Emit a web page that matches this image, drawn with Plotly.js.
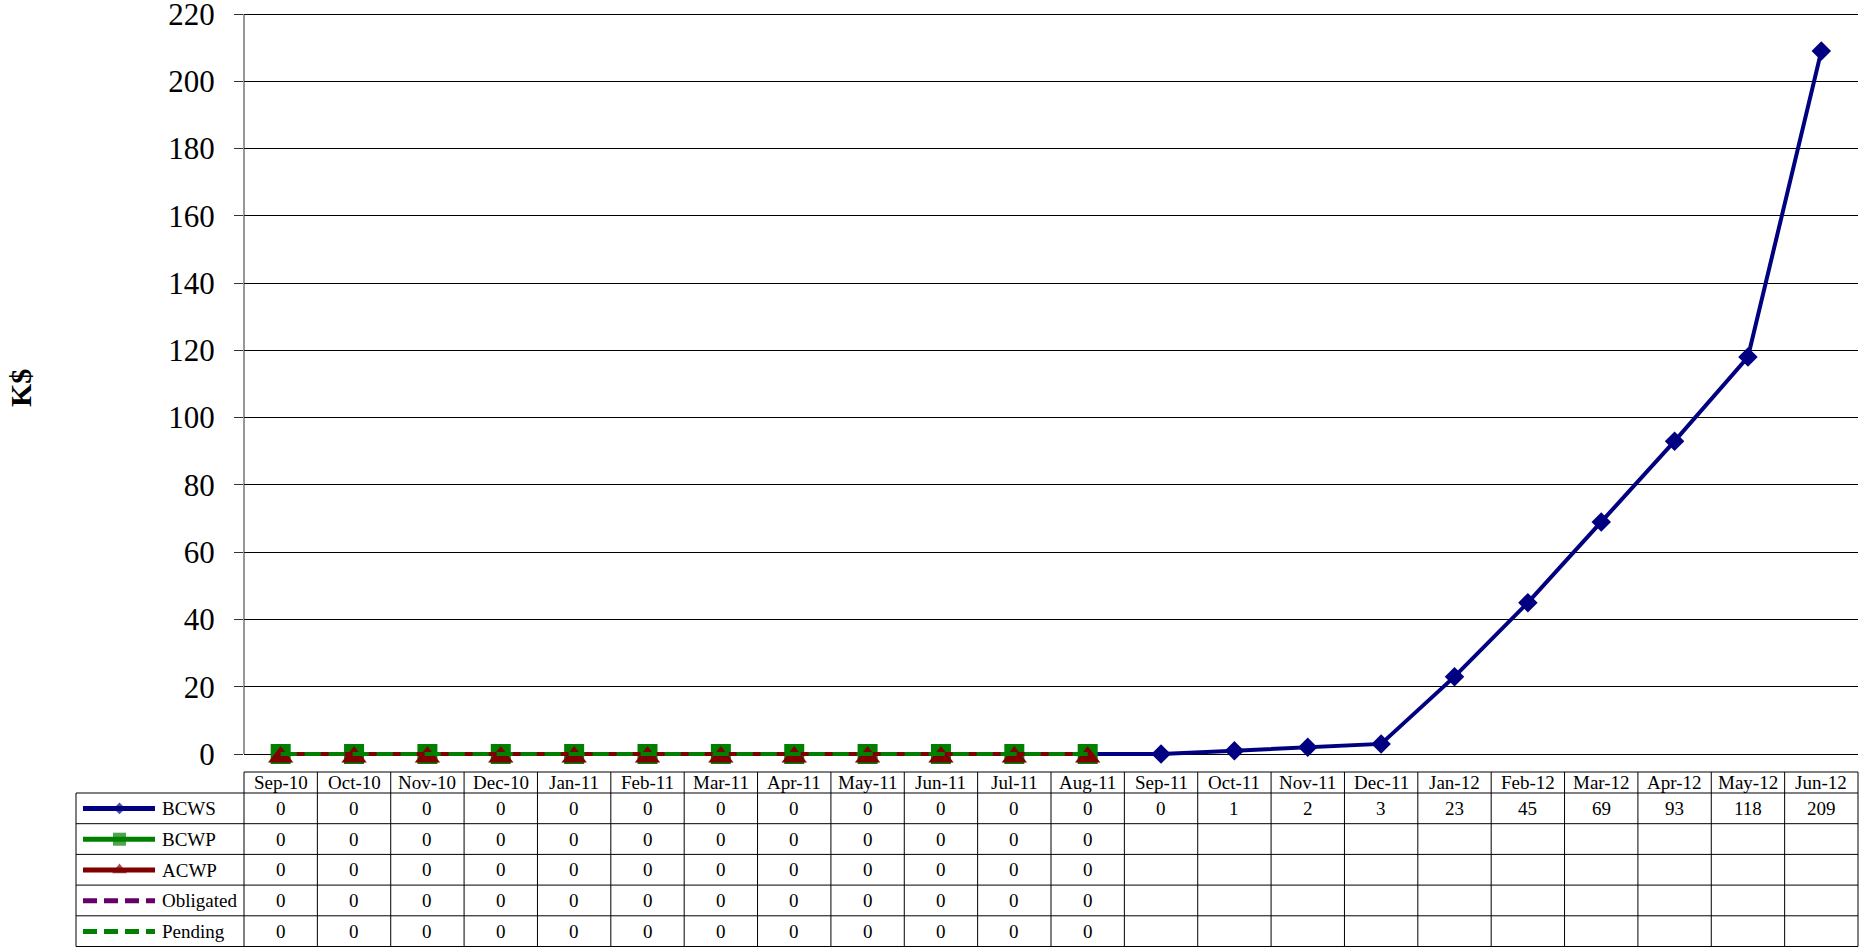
<!DOCTYPE html>
<html><head><meta charset="utf-8">
<script src="https://cdn.plot.ly/plotly-3.0.1.min.js"></script>
<style>html,body{margin:0;padding:0;background:#fff}#chart{width:1860px;height:947px}</style>
</head><body><div id="chart"></div>
<script>
// ---------- DATA ----------
const months = ['Sep-10','Oct-10','Nov-10','Dec-10','Jan-11','Feb-11','Mar-11','Apr-11','May-11','Jun-11','Jul-11','Aug-11',
                'Sep-11','Oct-11','Nov-11','Dec-11','Jan-12','Feb-12','Mar-12','Apr-12','May-12','Jun-12'];
const bcws      = [0,0,0,0,0,0,0,0,0,0,0,0, 0,1,2,3,23,45,69,93,118,209];
const bcwp      = [0,0,0,0,0,0,0,0,0,0,0,0];
const acwp      = [0,0,0,0,0,0,0,0,0,0,0,0];
const obligated = [0,0,0,0,0,0,0,0,0,0,0,0];
const pending   = [0,0,0,0,0,0,0,0,0,0,0,0];
const seriesNames = ['BCWS','BCWP','ACWP','Obligated','Pending'];
const yTicks = [0,20,40,60,80,100,120,140,160,180,200,220];
const yTitle = 'K$';

// ---------- LAYOUT CONSTANTS (pixels) ----------
const W = 1860, H = 947;
const plotL = 244, plotR = 1858, plotT = 14, plotB = 754;
const headTop = 772, headBot = 793, tableBot = 946.5, legendL = 76;
const yMax = 220;
const pxPerUnit = (plotB - plotT) / yMax;
const padPx = 3, padUnits = padPx / pxPerUnit;
const FONT = "Liberation Serif";

const styles = [
  {color:'#000080', dash:'solid', symbol:'diamond', size:15, iconSymbol:'diamond', iconSize:9},
  {color:'#008000', dash:'solid', symbol:'square',  size:20, iconSymbol:'square', iconSize:13},
  {color:'#800000', dash:'solid', symbol:'triangle-up', standoff:3, size:22, iconSymbol:'triangle-up', iconSize:13},
  {color:'#660066', dash:'16px,8px', symbol:null},
  {color:'#008000', dash:'16px,8px', symbol:null}
];
const allSeries = [bcws, bcwp, acwp, obligated, pending];
const px2x = p => p / W;
const px2y = p => 1 - p / H;

const traces = [];
allSeries.forEach((vals, s) => {
  const st = styles[s];
  const t = {
    type:'scatter', x: months.slice(0, vals.length), y: vals, name: seriesNames[s],
    mode: st.symbol ? 'lines+markers' : 'lines',
    line:{color:st.color, width:4, dash:st.dash},
    cliponaxis:false, showlegend:false, hoverinfo:'x+y+name'
  };
  if (st.symbol) {
    t.marker = {symbol:st.symbol, size:st.size, color:st.color, line:{width:0}};
    if (st.standoff) t.marker.standoff = st.standoff;
  }
  traces.push(t);
});

// legend icons in the table's first column (own axes)
const iconX = [7, 43.5, 79];
seriesNames.forEach((nm, s) => {
  const st = styles[s];
  const t = {
    type:'scatter', xaxis:'x3', yaxis:'y3', x: iconX, y:[s,s,s],
    mode: st.symbol ? 'lines+markers' : 'lines',
    line:{color:st.color, width:5, dash: st.symbol ? 'solid' : '14px,7px'},
    showlegend:false, hoverinfo:'skip', cliponaxis:false
  };
  if (st.symbol) t.marker = {symbol:st.iconSymbol, size:[0, st.iconSize, 0], color:st.color, line:{width:0}};
  traces.push(t);
});

// ---------- TABLE ----------
const shapes = [];
const annotations = [];
const nCols = months.length;
const colW = (plotR - plotL) / nCols;
const rowH = (tableBot - headBot) / seriesNames.length;
const lineStyle = {color:'#000', width:1};
function hline(x0, x1, y){ shapes.push({type:'line', xref:'paper', yref:'paper', x0:px2x(x0), x1:px2x(x1), y0:px2y(y), y1:px2y(y), line:lineStyle}); }
function vline(x, y0, y1){ shapes.push({type:'line', xref:'paper', yref:'paper', x0:px2x(x), x1:px2x(x), y0:px2y(y0), y1:px2y(y1), line:lineStyle}); }
hline(plotL, plotR, headTop);
for (let r = 0; r <= seriesNames.length; r++) hline(legendL, plotR, headBot + r * rowH);
vline(legendL, headBot, tableBot);
for (let k = 0; k <= nCols; k++) vline(plotL + k * colW, headTop, tableBot);

const cellFont = {family:FONT, size:19, color:'#000'};
months.forEach(m => {
  annotations.push({xref:'x', yref:'paper', x:m, y:px2y((headTop + headBot) / 2), text:m,
    showarrow:false, font:cellFont, xanchor:'center', yanchor:'middle'});
});
allSeries.forEach((vals, s) => {
  const yc = px2y(headBot + (s + 0.5) * rowH);
  vals.forEach((v, i) => {
    if (v === null || v === undefined) return;
    annotations.push({xref:'x', yref:'paper', x:months[i], y:yc, text:String(Math.round(v)),
      showarrow:false, font:cellFont, xanchor:'center', yanchor:'middle'});
  });
  annotations.push({xref:'x3', yref:'y3', x:84, y:s, text:seriesNames[s], showarrow:false,
    font:cellFont, xanchor:'left', yanchor:'middle'});
});

// y-axis title
annotations.push({xref:'paper', yref:'paper', x:px2x(20), y:px2y((plotT + plotB) / 2 + 4),
  text:'<b>' + yTitle + '</b>', textangle:-90, showarrow:false,
  font:{family:FONT, size:30, color:'#000'}, xanchor:'center', yanchor:'middle'});
// y-axis line from 0 to 220
shapes.push({type:'line', xref:'paper', yref:'paper', x0:px2x(plotL), x1:px2x(plotL), y0:px2y(plotB), y1:px2y(plotT), line:{color:'#333', width:1}});

const layout = {
  width:W, height:H, margin:{l:0, r:0, t:0, b:0},
  paper_bgcolor:'#fff', plot_bgcolor:'#fff',
  font:{family:FONT, color:'#000'},
  showlegend:false,
  xaxis:{type:'category', domain:[px2x(plotL), px2x(plotR)], range:[-0.5, nCols - 0.5],
    showgrid:false, zeroline:false, showline:false, showticklabels:false, ticks:'', fixedrange:true},
  yaxis:{domain:[px2y(plotB + padPx), px2y(plotT - padPx)], range:[-padUnits, yMax + padUnits],
    tickmode:'array', tickvals:yTicks, ticktext:yTicks.map(String), showgrid:true, gridcolor:'#000', gridwidth:1,
    zeroline:false, showline:false, ticklabeloverflow:'allow',
    ticks:'outside', ticklen:9, tickcolor:'#333', tickwidth:1, ticklabelstandoff:13,
    tickfont:{family:FONT, size:31, color:'#000'}, fixedrange:true},
  xaxis3:{domain:[px2x(legendL), px2x(plotL)], range:[0, plotL - legendL], visible:false, fixedrange:true, anchor:'y3'},
  yaxis3:{domain:[0, px2y(headBot)], range:[seriesNames.length - 0.5, -0.5], visible:false, fixedrange:true, anchor:'x3'},
  shapes:shapes, annotations:annotations
};
Plotly.newPlot('chart', traces, layout, {displayModeBar:false, staticPlot:true});
</script>
</body></html>
